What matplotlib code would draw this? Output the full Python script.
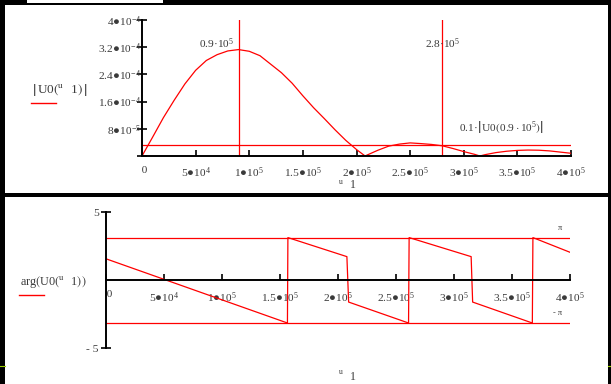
import numpy as np
import matplotlib
matplotlib.use('Agg')
import matplotlib.pyplot as plt
from matplotlib.patches import Rectangle
from matplotlib.lines import Line2D
from matplotlib.transforms import blended_transform_factory

plt.rcParams['font.family'] = ['Liberation Serif', 'DejaVu Sans']
plt.rcParams['mathtext.fontset'] = 'custom'
plt.rcParams['mathtext.rm'] = 'Liberation Serif'
plt.rcParams['mathtext.it'] = 'Liberation Serif:italic'
plt.rcParams['mathtext.fallback'] = 'stix'

# |U0(u1)|
u_mag = [0, 1e4, 2e4, 3e4, 4e4, 5e4, 6e4, 7e4, 8e4, 9e4, 10e4, 11e4, 12e4, 13e4,
         14e4, 15e4, 16e4, 17e4, 18e4, 19e4, 20e4, 2.08e5, 21e4, 22e4, 23e4, 24e4,
         25e4, 26e4, 27e4, 28e4, 29e4, 30e4, 31e4, 3.15e5, 32e4, 33e4, 34e4, 35e4,
         36e4, 37e4, 38e4, 39e4, 40e4]
mag = [0, 5.6e-5, 1.13e-4, 1.64e-4, 2.12e-4, 2.52e-4, 2.81e-4, 2.98e-4, 3.09e-4, 3.13e-4,
       3.08e-4, 2.95e-4, 2.70e-4, 2.45e-4, 2.14e-4, 1.77e-4, 1.42e-4, 1.10e-4, 7.7e-5,
       4.6e-5, 1.9e-5, 0, 3e-6, 1.7e-5, 2.9e-5, 3.5e-5, 3.85e-5, 3.65e-5, 3.4e-5, 3.0e-5,
       2.2e-5, 1.3e-5, 5e-6, 0, 4e-6, 1.0e-5, 1.4e-5, 1.65e-5, 1.75e-5, 1.7e-5, 1.5e-5,
       1.15e-5, 8e-6]

# arg(U0(u1))
u_arg = [0, 1.562e5, 1.566e5, 2.075e5, 2.09e5, 2.607e5, 2.612e5, 3.147e5, 3.16e5,
         3.675e5, 3.68e5, 4.0e5]
phase = [1.57, -3.14, 3.14, 1.74, -1.60, -3.14, 3.14, 1.74, -1.60, -3.14, 3.14, 2.06]

peak_u = 0.9e5
cut_u = 2.8e5
level = 0.1 * mag[u_mag.index(peak_u)]
pi_level = np.pi

x_ticks = [0, 5e4, 1e5, 1.5e5, 2e5, 2.5e5, 3e5, 3.5e5, 4e5]
x_labels = ['  0', '5●10$^{4}$', '1●10$^{5}$', '1.5●10$^{5}$', '2●10$^{5}$',
            '2.5●10$^{5}$', '3●10$^{5}$', '3.5●10$^{5}$', '4●10$^{5}$']
y1_ticks = [0, 8e-5, 1.6e-4, 2.4e-4, 3.2e-4, 4e-4]
y1_labels = ['', '8●10$^{-5}$', '1.6●10$^{-4}$', '2.4●10$^{-4}$', '3.2●10$^{-4}$', '4●10$^{-4}$']
y2_ticks = [-5, 5]
y2_labels = ['- 5', '5']

W, H = 611, 384
def fx(x):
    return x / W
def fy(y):
    return 1 - y / H

txt = '#3a3a3a'
fig = plt.figure(figsize=(W / 100, H / 100), dpi=100, facecolor='black')

# white panels on black
for (x0, y0, w, h) in [(5, 193, 603, 188), (5, 384, 603, 187), (27, 3, 136, 3)]:
    fig.patches.append(Rectangle((fx(x0), fy(y0)), w / W, h / H, transform=fig.transFigure,
                                 facecolor='white', edgecolor='none', zorder=-10))
fig.add_artist(Line2D([0, fx(5)], [fy(366), fy(366)], color='#9acd00', lw=0.8))
fig.add_artist(Line2D([fx(608), 1], [fy(366), fy(366)], color='#9acd00', lw=0.8))


def style(ax):
    ax.set_facecolor('none')
    for s in ['top', 'right']:
        ax.spines[s].set_visible(False)
    for s in ['left', 'bottom']:
        ax.spines[s].set_linewidth(1.4)
        ax.spines[s].set_color('black')
    ax.tick_params(axis='x', direction='in', length=4, width=1.2, pad=7,
                   labelsize=8.2, labelcolor=txt)
    ax.tick_params(axis='y', direction='inout', length=7, width=1.2,
                   labelsize=8.2, labelcolor=txt)


# top chart: magnitude
ax1 = fig.add_axes([fx(142), fy(156), 429 / W, 136 / H])
style(ax1)
ax1.plot(u_mag, mag, color='red', lw=0.9)
ax1.axvline(peak_u, color='red', lw=0.9)
ax1.axvline(cut_u, color='red', lw=0.9)
ax1.axhline(level, color='red', lw=0.9)
ax1.set_xlim(0, 4e5)
ax1.set_ylim(0, 4e-4)
ax1.set_xticks(x_ticks, x_labels)
ax1.set_yticks(y1_ticks, y1_labels)
ax1.tick_params(axis='y', pad=-2.8)

tr = blended_transform_factory(ax1.transData, ax1.transAxes)
ax1.annotate('0.9·10$^{5}$', xy=(peak_u, 0.795), xycoords=tr, xytext=(-3, 0),
             textcoords='offset points', ha='right', va='baseline', fontsize=8.2, color=txt)
ax1.text(cut_u, 0.795, '2.8·10$^{5}$', transform=tr, ha='center', va='baseline',
         fontsize=8.2, color=txt)
ax1.annotate(r'0.1·$\left|\,\mathrm{U0}\left(0.9\cdot10^{5}\right)\right|$',
             xy=(cut_u, level), xytext=(12, 10), textcoords='offset points',
             ha='left', va='baseline', fontsize=8.2, color=txt)

fig.text(fx(32), fy(90), r'$\left|\,\mathrm{U0}\left(^{\mathrm{u}}\;\;\;1\right)\,\right|$',
         ha='left', va='center', fontsize=9.5, color=txt)
fig.add_artist(Line2D([fx(31), fx(56.5)], [fy(103), fy(103)], color='red', lw=1))
fig.text(fx(341), fy(182), 'u', ha='center', va='center', fontsize=5.5, color=txt)
fig.text(fx(353), fy(185), '1', ha='center', va='center', fontsize=8.5, color=txt)

# bottom chart: phase
ax2 = fig.add_axes([fx(106.4), fy(348.3), (570 - 106.4) / W, 136 / H])
style(ax2)
ax2.spines['bottom'].set_position(('data', 0))
ax2.plot(u_arg, phase, color='red', lw=0.9)
ax2.axhline(pi_level, color='red', lw=0.9)
ax2.axhline(-pi_level, color='red', lw=0.9)
ax2.set_xlim(0, 4e5)
ax2.set_ylim(-5, 5)
ax2.set_xticks(x_ticks, x_labels)
ax2.set_yticks(y2_ticks, y2_labels)
ax2.tick_params(axis='y', pad=2)

fig.text(fx(560), fy(228), 'π', ha='center', va='center', fontsize=6, color=txt)
fig.text(fx(558), fy(313), '- π', ha='center', va='center', fontsize=6, color=txt)
fig.text(fx(20), fy(282), r'arg$\left(\mathrm{U0}\left(^{\mathrm{u}}\;\;\;1\right)\right)$',
         ha='left', va='center', fontsize=8.8, color=txt)
fig.add_artist(Line2D([fx(19), fx(43.7)], [fy(295.3), fy(295.3)], color='red', lw=1))
fig.text(fx(341), fy(371.7), 'u', ha='center', va='center', fontsize=5.5, color=txt)
fig.text(fx(353), fy(376.7), '1', ha='center', va='center', fontsize=8.5, color=txt)

fig.savefig('out.png', dpi=100, facecolor='black')
